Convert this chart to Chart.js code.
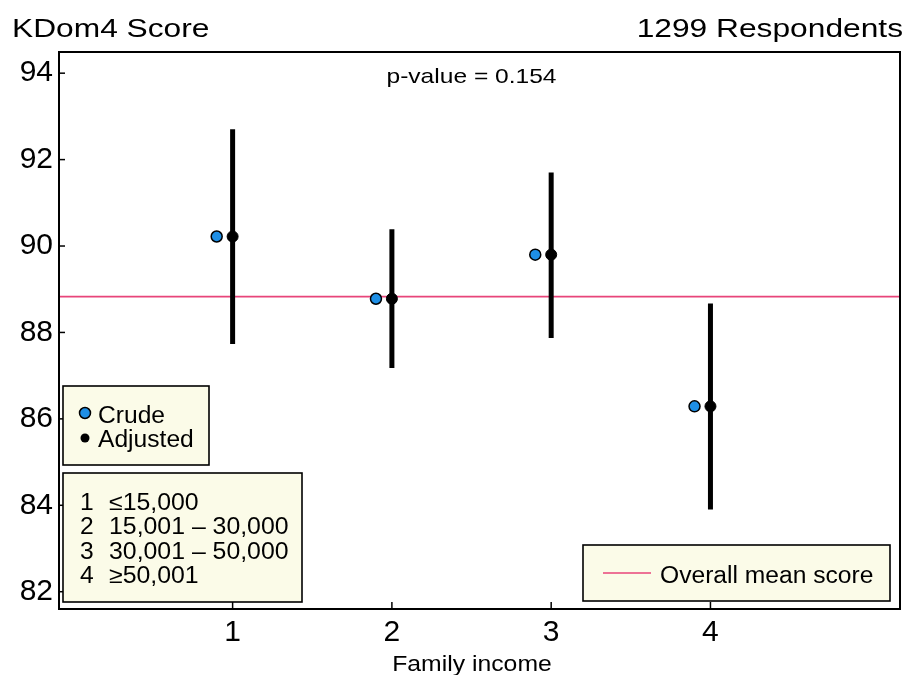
<!DOCTYPE html>
<html>
<head>
<meta charset="utf-8">
<script src="https://cdn.jsdelivr.net/npm/chart.js@4.4.1/dist/chart.umd.min.js"></script>
<style>
  html, body { margin: 0; padding: 0; background: #ffffff; }
  #wrap { width: 907px; height: 675px; position: relative; }
</style>
</head>
<body>
<div id="wrap"><canvas id="c" width="907" height="675"></canvas></div>
<script>
// Family income groups (x positions 1..4)
const categories = [1, 2, 3, 4];
const incomeLabels = ['\u226415,000', '15,001 \u2013 30,000', '30,001 \u2013 50,000', '\u226550,001'];
// KDom4 score estimates
const crudeMeans = [90.22, 88.78, 89.80, 86.29];
const adjustedMeans = [90.22, 88.78, 89.80, 86.29];
// 95% confidence limits of adjusted estimates
const ciLower = [87.73, 87.18, 87.87, 83.90];
const ciUpper = [92.70, 90.39, 91.70, 88.67];
const overallMean = 88.83;
const yTicks = [82, 84, 86, 88, 90, 92, 94];
const crudeOffset = -0.1;

const FONT = '"Liberation Sans", Arial, sans-serif';
const X_MIN = -0.09, X_MAX = 5.19;
const MEAN_COLOR = '#e8457a';
const CRUDE_COLOR = '#1e8fe6';

const datasets = [];
// mean reference line
datasets.push({
  label: 'Overall mean score',
  data: [{x: X_MIN, y: overallMean}, {x: X_MAX, y: overallMean}],
  showLine: true, borderColor: MEAN_COLOR, borderWidth: 1.6,
  pointRadius: 0, order: 5
});
// confidence interval segments
categories.forEach((c, i) => {
  datasets.push({
    label: 'ci' + c,
    data: [{x: c, y: ciLower[i]}, {x: c, y: ciUpper[i]}],
    showLine: true, borderColor: '#000000', borderWidth: 5,
    borderCapStyle: 'butt', pointRadius: 0, order: 4
  });
});
datasets.push({
  label: 'Crude',
  data: categories.map((c, i) => ({x: c + crudeOffset, y: crudeMeans[i]})),
  showLine: false, pointRadius: 5.5, pointBackgroundColor: CRUDE_COLOR,
  pointBorderColor: '#000000', pointBorderWidth: 1.5, order: 1
});
datasets.push({
  label: 'Adjusted',
  data: categories.map((c, i) => ({x: c, y: adjustedMeans[i]})),
  showLine: false, pointRadius: 5.5, pointBackgroundColor: '#000000',
  pointBorderColor: '#000000', pointBorderWidth: 1, order: 1
});

function box(ctx, x, y, w, h) {
  ctx.save();
  ctx.fillStyle = '#fbfbe8';
  ctx.fillRect(x, y, w, h);
  ctx.strokeStyle = '#000000';
  ctx.lineWidth = 1.6;
  ctx.strokeRect(x, y, w, h);
  ctx.restore();
}

// text drawn with a horizontal stretch factor (wide-set lettering)
function txt(ctx, s, x, y, size, sx, align) {
  ctx.save();
  ctx.font = size + 'px ' + FONT;
  ctx.textAlign = 'left';
  ctx.textBaseline = 'alphabetic';
  const w = ctx.measureText(s).width * sx;
  let left = x;
  if (align === 'center') left = x - w / 2;
  else if (align === 'right') left = x - w;
  ctx.translate(left, y);
  ctx.scale(sx, 1);
  ctx.fillStyle = '#000000';
  ctx.fillText(s, 0, 0);
  ctx.restore();
}

const decorations = {
  id: 'decorations',
  afterDraw(chart) {
    const ctx = chart.ctx;
    const a = chart.chartArea;
    const xs = chart.scales.x, ys = chart.scales.y;
    ctx.save();
    // plot frame
    ctx.strokeStyle = '#000000';
    ctx.lineWidth = 2;
    ctx.strokeRect(a.left, a.top, a.right - a.left, a.bottom - a.top);
    // inward tick marks
    ctx.lineWidth = 1.5;
    yTicks.forEach(v => {
      const p = ys.getPixelForValue(v);
      ctx.beginPath(); ctx.moveTo(a.left, p); ctx.lineTo(a.left + 6, p); ctx.stroke();
    });
    categories.forEach(c => {
      const p = xs.getPixelForValue(c);
      ctx.beginPath(); ctx.moveTo(p, a.bottom); ctx.lineTo(p, a.bottom - 7); ctx.stroke();
    });
    ctx.restore();

    // headers
    txt(ctx, 'KDom4 Score', 12, 37, 26, 1.22, 'left');
    txt(ctx, '1299 Respondents', 903, 37, 26, 1.22, 'right');
    txt(ctx, 'p-value = 0.154', 471.5, 82.5, 21, 1.17, 'center');
    txt(ctx, 'Family income', 472, 671, 22.5, 1.1, 'center');

    // symbol legend
    box(ctx, 63, 386, 146, 79);
    ctx.save();
    ctx.beginPath(); ctx.arc(85, 413, 5.5, 0, Math.PI * 2);
    ctx.fillStyle = CRUDE_COLOR; ctx.fill(); ctx.lineWidth = 1.5; ctx.strokeStyle = '#000'; ctx.stroke();
    ctx.beginPath(); ctx.arc(85, 438, 4.5, 0, Math.PI * 2);
    ctx.fillStyle = '#000'; ctx.fill();
    ctx.restore();
    txt(ctx, 'Crude', 98, 423, 23, 1.07, 'left');
    txt(ctx, 'Adjusted', 98, 447, 23, 1.07, 'left');

    // income group key
    box(ctx, 63, 473, 239, 129);
    categories.forEach((c, i) => {
      const y = 509.5 + i * 24.6;
      txt(ctx, String(c), 80, y, 23, 1.07, 'left');
      txt(ctx, incomeLabels[i], 109, y, 23, 1.08, 'left');
    });

    // reference line key
    box(ctx, 583, 545, 307, 56);
    ctx.save();
    ctx.strokeStyle = MEAN_COLOR; ctx.lineWidth = 1.6;
    ctx.beginPath(); ctx.moveTo(603, 573); ctx.lineTo(651, 573); ctx.stroke();
    ctx.restore();
    txt(ctx, 'Overall mean score', 660, 583, 23, 1.07, 'left');
  }
};

new Chart(document.getElementById('c'), {
  type: 'scatter',
  data: { datasets },
  options: {
    responsive: false,
    animation: false,
    layout: { padding: { left: 0, top: 52, right: 4, bottom: 0 } },
    plugins: { legend: { display: false }, tooltip: { enabled: false } },
    scales: {
      x: {
        type: 'linear', min: X_MIN, max: X_MAX,
        afterBuildTicks: s => { s.ticks = categories.map(v => ({ value: v })); },
        afterFit: s => { s.height = 66; },
        grid: { display: false, drawTicks: false },
        border: { display: false },
        ticks: { color: '#000', font: { family: FONT, size: 30 }, padding: 6,
                 callback: v => String(v) }
      },
      y: {
        type: 'linear', min: 81.6, max: 94.49,
        afterBuildTicks: s => { s.ticks = yTicks.map(v => ({ value: v })); },
        afterFit: s => { s.width = 59; },
        grid: { display: false, drawTicks: false },
        border: { display: false },
        ticks: { color: '#000', font: { family: FONT, size: 30 }, padding: 6,
                 callback: v => String(v) }
      }
    }
  },
  plugins: [decorations]
});
</script>
</body>
</html>
